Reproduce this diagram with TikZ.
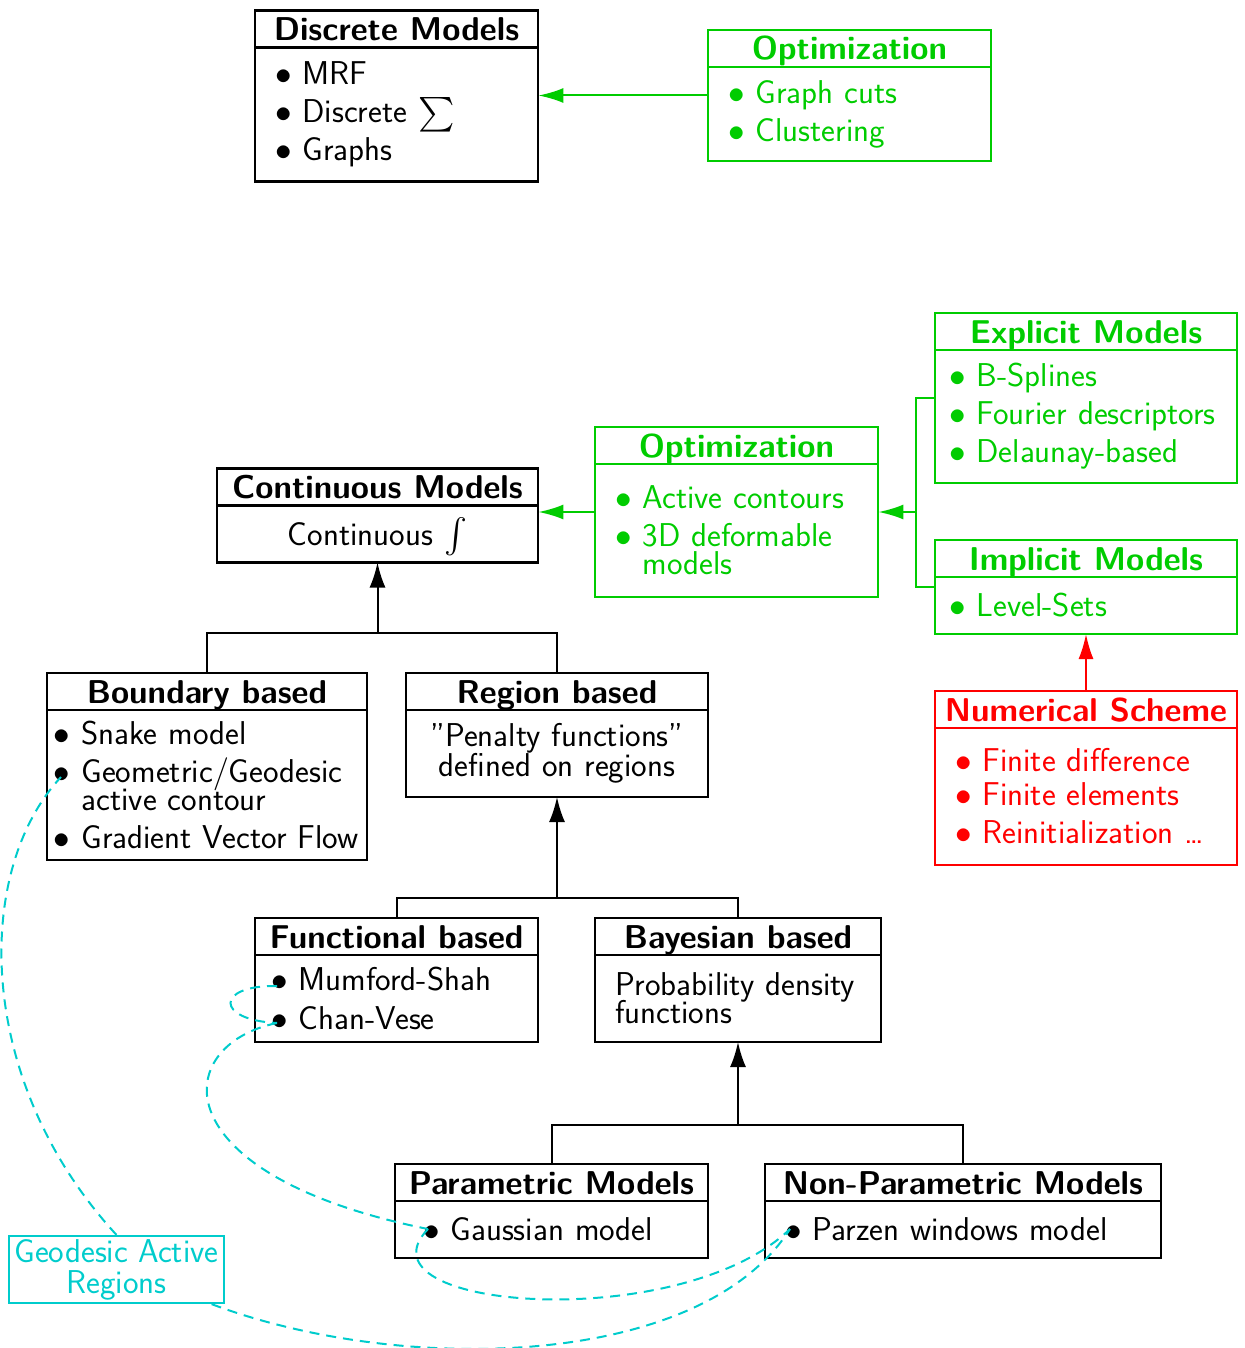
\RequirePackage{fix-cm}
\documentclass[tikz,border=0pt]{standalone}
\usepackage{exscale}
\usetikzlibrary{arrows.meta,positioning,fit}

\definecolor{optgreen}{rgb}{0,0.8,0}
\definecolor{numred}{rgb}{1,0,0}
\definecolor{garcyan}{rgb}{0,0.8,0.8}

\newcommand{\clshead}{\fontsize{16.5}{18}\selectfont\sffamily\bfseries}
\newcommand{\clsbody}{\fontsize{16.5}{14}\selectfont\sffamily\lineskiplimit=-10pt\hyphenpenalty=10000}
\newcommand{\itm}{$\bullet$\ }
\newcommand{\cnt}{\phantom{$\bullet$\ }}

\begin{document}
\begin{tikzpicture}[x=0.5pt, y=-0.5pt,
    head node/.style={draw, line width=1.1pt, outer sep=0pt, inner sep=0pt,
      minimum height=18.5pt, text height=13.5pt, text depth=2pt, font=\clshead},
    body node/.style={draw, line width=1.1pt, outer sep=0pt, inner xsep=10pt,
      inner ysep=0pt, align=left, font=\clsbody},
    green node/.style={draw=optgreen, text=optgreen},
    red node/.style={draw=numred, text=numred},
    tree line/.style={line width=1pt},
    tree arrow/.style={line width=1pt, -{Latex[length=12.5pt, width=8pt]}},
    green arrow/.style={optgreen, line width=1pt, -{Latex[length=12.5pt, width=7.5pt]}},
    red arrow/.style={numred, line width=1pt, -{Latex[length=12.5pt, width=7.5pt]}},
    gar link/.style={garcyan, line width=1pt, dash pattern=on 5pt off 3.5pt}]

  \useasboundingbox (0,0) rectangle (1245,1348);

  % discrete models
  \node[head node, minimum width=141.5pt] (disc) at (396.5,29) {Discrete Models};
  \node[body node, text width=121.5pt, minimum height=67pt, below=0pt of disc] (discb)
    {\itm MRF\\[5pt] \itm Discrete $\sum$\\[5pt] \itm Graphs};
  \node[head node, green node, minimum width=141.5pt] (opt1) at (849.5,48.5) {Optimization};
  \node[body node, green node, text width=121.5pt, minimum height=47pt, below=0pt of opt1] (opt1b)
    {\itm Graph cuts\\[5pt] \itm Clustering};

  % continuous models
  \node[head node, green node, minimum width=151pt] (expl) at (1086,331.5) {Explicit Models};
  \node[body node, green node, text width=137pt, inner xsep=7pt, minimum height=66.5pt, below=0pt of expl] (explb)
    {\itm B-Splines\\[5pt] \itm Fourier~descriptors\\[5pt] \itm Delaunay-based};
  \node[head node, green node, minimum width=151pt] (impl) at (1086,558.5) {Implicit Models};
  \node[body node, green node, text width=137pt, inner xsep=7pt, minimum height=28.5pt, below=0pt of impl] (implb)
    {\itm Level-Sets};
  \node[head node, green node, minimum width=141.5pt] (opt2) at (736.5,445.5) {Optimization};
  \node[body node, green node, text width=121.5pt, minimum height=66.5pt, below=0pt of opt2] (opt2b)
    {\itm Active contours\\[5pt] \itm 3D~deformable\\ \cnt models};
  \node[head node, minimum width=160.5pt] (cont) at (377.5,487) {Continuous Models};
  \node[body node, text width=140.5pt, minimum height=28.5pt, align=center, below=0pt of cont] (contb)
    {Continuous \smash{$\int$}};
  \node[head node, red node, minimum width=151pt] (num) at (1086,709.5) {Numerical Scheme};
  \node[body node, red node, text width=131pt, minimum height=68.5pt, below=0pt of num] (numb)
    {\itm Finite difference\\[3pt] \itm Finite elements\\[5pt] \itm Reinitialization \ldots};

  % boundary / region
  \node[head node, minimum width=160pt] (bnd) at (207,691.5) {Boundary based};
  \node[body node, text width=153pt, inner xsep=3.5pt, minimum height=75pt, below=0pt of bnd] (bndb)
    {\itm Snake model\\[5pt] \itm Geometric$/$Geodesic\\ \cnt active contour\\[5pt] \itm Gradient~Vector~Flow};
  \node[head node, minimum width=151pt] (reg) at (557,691.5) {Region based};
  \node[body node, text width=131pt, minimum height=43.5pt, align=center, below=0pt of reg] (regb)
    {''Penalty functions''\\[1pt] defined on regions};

  % functional / bayesian
  \node[head node, minimum width=141.5pt] (func) at (396.5,936.5) {Functional based};
  \node[body node, text width=125.5pt, inner xsep=8pt, minimum height=43.5pt, below=0pt of func] (funcb)
    {\itm Mumford-Shah\\[5.5pt] \itm Chan-Vese};
  \node[head node, minimum width=143pt] (bay) at (738,936.5) {Bayesian based};
  \node[body node, text width=123pt, minimum height=43.5pt, below=0pt of bay] (bayb)
    {Probability density\\ functions};

  % parametric / non-parametric
  \node[head node, minimum width=156.5pt] (par) at (551.5,1182.5) {Parametric Models};
  \node[body node, text width=128.5pt, inner xsep=14pt, minimum height=28.5pt, below=0pt of par] (parb)
    {\itm Gaussian model};
  \node[head node, minimum width=198pt] (npar) at (963,1182.5) {Non-Parametric Models};
  \node[body node, text width=178pt, minimum height=28.5pt, below=0pt of npar] (nparb)
    {\itm Parzen windows model};

  \node[draw=garcyan, text=garcyan, line width=1.1pt, font=\clsbody, align=center,
    minimum width=107.5pt, minimum height=33.5pt, inner sep=0pt] (gar) at (116.5,1269.5)
    {Geodesic Active\\[1.5pt] Regions};

  % whole boxes
  \node[fit=(disc)(discb), inner sep=0pt] (discbox) {};
  \node[fit=(opt1)(opt1b), inner sep=0pt] (opt1box) {};
  \node[fit=(opt2)(opt2b), inner sep=0pt] (opt2box) {};
  \node[fit=(cont)(contb), inner sep=0pt] (contbox) {};
  \node[fit=(expl)(explb), inner sep=0pt] (explbox) {};
  \node[fit=(impl)(implb), inner sep=0pt] (implbox) {};

  % connectors
  \draw[green arrow] (opt1box.west) -- (opt1box.west -| discbox.east);
  \draw[green arrow] (opt2box.west) -- (opt2box.west -| contbox.east);
  \draw[optgreen, line width=1pt] (explbox.west) -- ++(-19,0) coordinate (brk) |- (implbox.west);
  \draw[green arrow] (brk |- opt2box.east) -- (opt2box.east);
  \draw[red arrow] (num.north) -- (implb.south);

  \draw[tree line] (bnd.north) -- ++(0,-40) coordinate (j1) -| (reg.north);
  \draw[tree arrow] (j1 -| contb.south) -- (contb.south);
  \draw[tree line] (func.north) -- ++(0,-20) coordinate (j2) -| (bay.north);
  \draw[tree arrow] (j2 -| regb.south) -- (regb.south);
  \draw[tree line] (par.north) -- ++(0,-39) coordinate (j3) -| (npar.north);
  \draw[tree arrow] (j3 -| bayb.south) -- (bayb.south);

  % geodesic active regions
  \coordinate (geo) at (61,777);
  \coordinate (ms) at (277,986);
  \coordinate (cv) at (277,1023);
  \coordinate (gauss) at (428,1229);
  \coordinate (parzen) at (790,1229);
  \draw[gar link] (gar.north) .. controls (-26,1080) and (-26,870) .. (geo);
  \draw[gar link] (ms) .. controls (215,985) and (215,1020) .. (cv);
  \draw[gar link] (cv) .. controls (170,1045) and (160,1175) .. (gauss);
  \draw[gar link] (gauss) .. controls (350,1310) and (680,1335) .. (parzen);
  \draw[gar link] (gar.-20) .. controls (400,1375) and (700,1370) .. (parzen);
\end{tikzpicture}
\end{document}
